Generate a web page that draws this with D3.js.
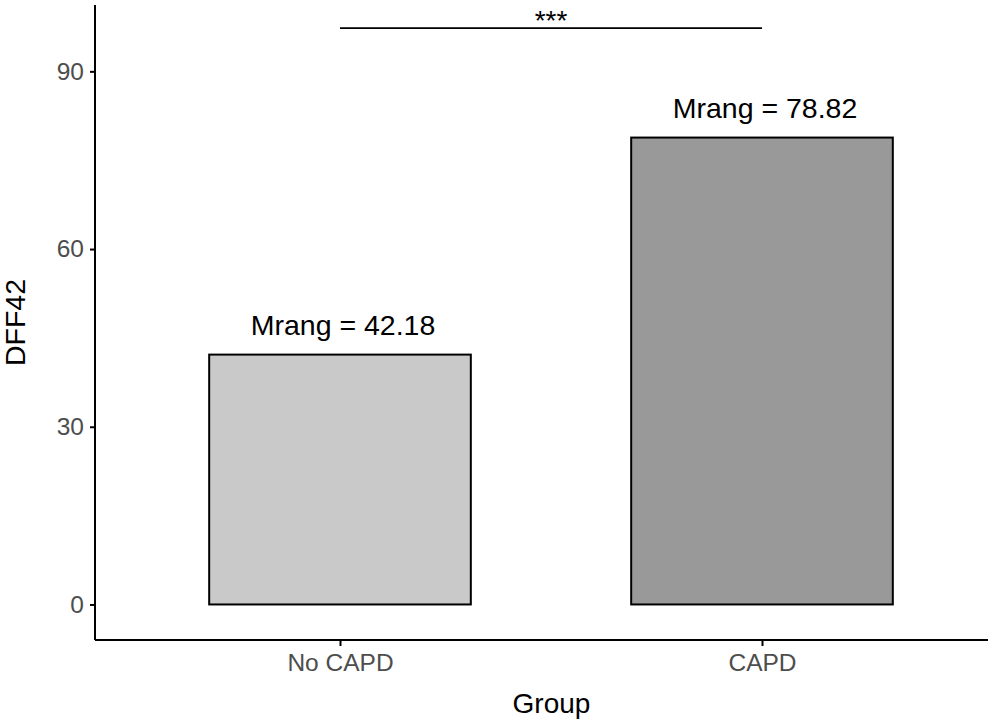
<!DOCTYPE html>
<html>
<head>
<meta charset="utf-8">
<script src="https://cdn.jsdelivr.net/npm/d3@7"></script>
<style>
  body { margin: 0; background: #fff; }
  svg { font-family: "Liberation Sans", Arial, sans-serif; }
</style>
</head>
<body>
<svg id="chart"></svg>
<script>
// data
const groups = ["No CAPD", "CAPD"]
const values = [42.18, 78.82]
const fills = ["#c9c9c9", "#999999"]
const yTicks = [0, 30, 60, 90]
const sigLabel = "***"
const sigLevel = 97.3

let svgWidth = 992, svgHeight = 725
let panel = {left: 95, right: 988, top: 5, bottom: 640}

let svg = d3.select("#chart")
    .attr("width", svgWidth)
    .attr("height", svgHeight)

let xScale = d3.scaleLinear() // group index -> pixel
    .domain([0, 1])
    .range([340, 762])

let yScale = d3.scaleLinear()
    .domain([-6.0, 101.2])
    .range([panel.bottom, panel.top])

let barW = xScale(0.62) - xScale(0)

// bars
svg.selectAll("rect.bar")
    .data(values)
    .enter()
    .append("rect")
    .attr("class", "bar")
    .attr("x", (d, i) => xScale(i) - barW / 2)
    .attr("y", d => yScale(d))
    .attr("width", barW)
    .attr("height", d => yScale(0) - yScale(d))
    .attr("fill", (d, i) => fills[i])
    .attr("stroke", "#000")
    .attr("stroke-width", 2)

// mean rank labels
svg.selectAll("text.lab")
    .data(values)
    .enter()
    .append("text")
    .attr("class", "lab")
    .attr("x", (d, i) => xScale(i) + 3)
    .attr("y", d => yScale(d) - 20)
    .attr("text-anchor", "middle")
    .attr("font-size", 28.5)
    .attr("fill", "#000")
    .text(d => "Mrang = " + d.toFixed(2))

// significance bar
svg.append("line")
    .attr("x1", xScale(0)).attr("x2", xScale(1))
    .attr("y1", yScale(sigLevel)).attr("y2", yScale(sigLevel))
    .attr("stroke", "#000")
    .attr("stroke-width", 1.6)

svg.append("text")
    .attr("x", (xScale(0) + xScale(1)) / 2)
    .attr("y", yScale(sigLevel) + 2)
    .attr("text-anchor", "middle")
    .attr("font-size", 28)
    .text(sigLabel)

// axes
let yAxis = d3.axisLeft(yScale)
    .tickValues(yTicks)
    .tickSize(5)
    .tickPadding(6)

let xAxis = d3.axisBottom(xScale)
    .tickValues([0, 1])
    .tickFormat(i => groups[i])
    .tickSize(6)
    .tickPadding(8)

let gy = svg.append("g")
    .attr("transform", `translate(${panel.left}, 0)`)
    .call(yAxis)

let gx = svg.append("g")
    .attr("transform", `translate(0, ${panel.bottom})`)
    .call(xAxis)

gy.select(".domain").attr("d", `M0,${panel.top}V${panel.bottom}`)
gx.select(".domain").attr("d", `M${panel.left},0H${panel.right}`)

for (let g of [gx, gy]) {
    g.attr("font-size", 24.5).attr("font-family", "Liberation Sans, Arial, sans-serif")
    g.selectAll(".domain").attr("stroke", "#000").attr("stroke-width", 2)
    g.selectAll(".tick line").attr("stroke", "#000").attr("stroke-width", 2)
    g.selectAll(".tick text").attr("fill", "#4d4d4d")
}

// axis titles
svg.append("text")
    .attr("x", (panel.left + panel.right) / 2 + 10)
    .attr("y", 713)
    .attr("text-anchor", "middle")
    .attr("font-size", 28)
    .text("Group")

svg.append("text")
    .attr("transform", `translate(25, ${(panel.top + panel.bottom) / 2}) rotate(-90)`)
    .attr("text-anchor", "middle")
    .attr("font-size", 28.5)
    .text("DFF42")
</script>
</body>
</html>
